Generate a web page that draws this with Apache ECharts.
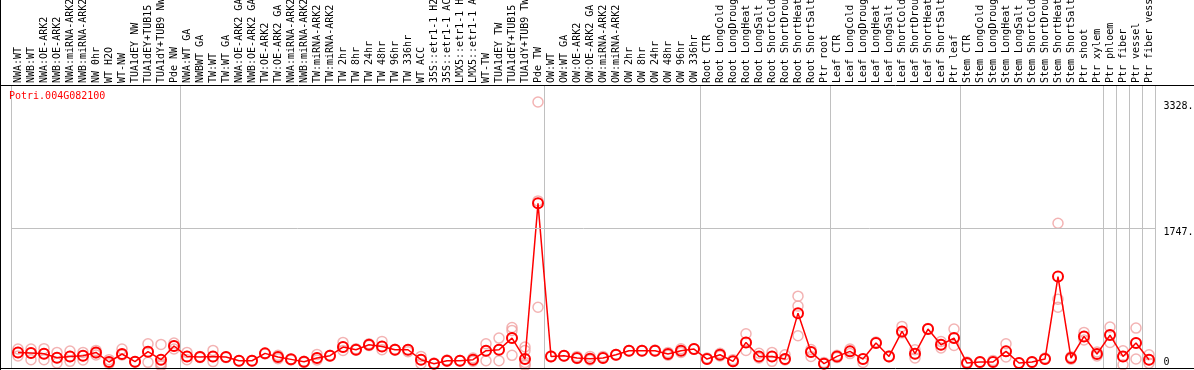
<!DOCTYPE html>
<html><head><meta charset="utf-8">
<script src="https://cdn.jsdelivr.net/npm/echarts@6/dist/echarts.min.js"></script>
<style>html,body{margin:0;padding:0;background:#fff}#c{width:1194px;height:370px}</style>
</head><body><div id="c"></div>
<script>
const geneName = 'Potri.004G082100';
const categories = [
 'NWA:WT','NWB:WT','NWA:OE-ARK2','NWB:OE-ARK2','NWA:miRNA-ARK2','NWB:miRNA-ARK2','NW 0hr','WT H2O','WT-NW','TUA1dEY NW','TUA1dEY+TUB15','TUA1dY+TUB9 NW','Pde NW',
 'NWA:WT GA','NWBWT GA','TW:WT','TW:WT GA','NWA:OE-ARK2 GA','NWB:OE-ARK2 GA','TW:OE-ARK2','TW:OE-ARK2 GA','NWA:miRNA-ARK2','NWB:miRNA-ARK2','TW:miRNA-ARK2','TW:miRNA-ARK2','TW 2hr','TW 8hr','TW 24hr','TW 48hr','TW 96hr','TW 336hr','WT ACC','35S::etr1-1 H2','35S::etr1-1 AC','LMX5::etr1-1 H','LMX5::etr1-1 A','WT-TW','TUA1dEY TW','TUA1dEY+TUB15','TUA1dY+TUB9 TW','Pde TW',
 'OW:WT','OW:WT GA','OW:OE-ARK2','OW:OE-ARK2 GA','OW:miRNA-ARK2','OW:miRNA-ARK2','OW 2hr','OW 8hr','OW 24hr','OW 48hr','OW 96hr','OW 336hr',
 'Root CTR','Root LongCold','Root LongDroug','Root LongHeat','Root LongSalt','Root ShortCold','Root ShortDrou','Root ShortHeat','Root ShortSalt','Ptr root',
 'Leaf CTR','Leaf LongCold','Leaf LongDroug','Leaf LongHeat','Leaf LongSalt','Leaf ShortCold','Leaf ShortDrou','Leaf ShortHeat','Leaf ShortSalt','Ptr leaf',
 'Stem CTR','Stem LongCold','Stem LongDroug','Stem LongHeat','Stem LongSalt','Stem ShortCold','Stem ShortDrou','Stem ShortHeat','Stem ShortSalt','Ptr shoot','Ptr xylem',
 'Ptr phloem','Ptr fiber','Ptr vessel','Ptr fiber vess'
];
const means = [
 195,187,179,129,145,154,195,75,175,79,204,104,275,
 145,137,145,137,91,91,183,137,108,79,125,154,262,229,291,270,229,228,104,54,91,91,104,216,228,374,112,2060,
 145,154,125,116,125,166,216,216,216,175,216,237,
 112,166,83,320,145,145,112,686,200,54,
 145,208,112,312,145,457,179,487,291,374,
 62,75,75,208,62,75,112,1144,125,395,175,
 412,145,312,104
];
const replicates = [
 [237,195,150],[237,187,104],[242,179,104],[195,129,62],[212,145,83],[195,154,100],[220,187,162],[104,75,54],[237,170,162],[79,75],[304,204,71],[295,60,40,25],[312,275,237],
 [195,145,104],[145,130],[220,140,80],[137,130],[91,88],[95,88],[183,175],[160,137,115],[108,100],[85,70],[170,125,100],[160,150],[320,262,220],[240,225],[304,291,280],[333,270,229],[235,225],[228,203],[145,104,54],[62,50],[100,91,85],[95,88],[125,104,85],[304,216,91],[374,228,91],[507,470,374,158],[262,220,70,45,30],[3328,2090,760],
 [150,140],[154,150],[145,120],[145,100],[145,125],[170,160],[220,212],[220,212],[225,212],[195,160],[240,195],[240,233],
 [125,110],[185,150],[104,80],[428,320,220],[185,125],[195,145,83],[166,112,100],[899,774,403],[230,200,145],[70,54],
 [160,130],[237,208,180],[112,70],[325,312],[150,140],[520,457,440],[229,179,125],[495,487],[332,291,250],[487,374,283],
 [75,50],[75,70],[95,75],[303,208,137],[62,60],[75,70],[125,112],[1810,861,761],[140,110],[445,395,350],[200,150],
 [512,412,320],[216,145,41],[499,312,112],[166,104,60]
];
const groupBoundaries = [0,13,41,53,63,73,84,85,86,87];
const yTicks = [0,1747,3328];
const yMax = 3540;

const mono = 'DejaVu Sans Mono';
const grayLine = '#c0c0c0';
const chart = echarts.init(document.getElementById('c'), null, {renderer: 'canvas'});
const isBoundary = (idx) => groupBoundaries.indexOf(idx) >= 0;
const repPoints = [];
replicates.forEach((arr, i) => arr.forEach(v => repPoints.push([i, v])));

chart.setOption({
  animation: false,
  backgroundColor: '#fff',
  title: {
    text: geneName, left: 9, top: 91, padding: 0,
    textStyle: {color: '#ff0000', fontSize: 10, fontFamily: mono, fontWeight: 'normal'}
  },
  grid: {left: 11.5, right: 38.5, top: 85, bottom: 2, containLabel: false, outerBoundsMode: 'none'},
  xAxis: {
    type: 'category', position: 'top', data: categories, boundaryGap: true,
    axisLine: {show: false},
    axisTick: {show: true, length: 85, interval: isBoundary, lineStyle: {color: grayLine, width: 1}},
    splitLine: {show: true, interval: isBoundary, lineStyle: {color: grayLine, width: 1}},
    axisLabel: {rotate: 90, interval: 0, margin: 2, fontFamily: mono, fontSize: 10, color: '#000'}
  },
  yAxis: {
    type: 'value', position: 'right', min: 0, max: yMax,
    axisLine: {show: false}, axisTick: {show: false}, splitLine: {show: false},
    axisLabel: {
      show: true, customValues: yTicks, margin: 8, color: '#000', fontFamily: mono, fontSize: 10,
      formatter: v => v === 0 ? '{lo|0}' : '{hi|' + v + '.}',
      rich: {
        hi: {padding: [9, 0, 0, 0], fontFamily: mono, fontSize: 10, color: '#000'},
        lo: {padding: [0, 0, 12, 0], fontFamily: mono, fontSize: 10, color: '#000'}
      }
    }
  },
  graphic: [
    {type: 'line', shape: {x1: 0.5, y1: 0, x2: 0.5, y2: 370}, style: {stroke: '#000', lineWidth: 1}, z: 100},
    {type: 'line', shape: {x1: 0, y1: 85.5, x2: 1194, y2: 85.5}, style: {stroke: '#000', lineWidth: 1}, z: 100},
    {type: 'line', shape: {x1: 0, y1: 368.5, x2: 1194, y2: 368.5}, style: {stroke: '#000', lineWidth: 1}, z: 100}
  ],
  series: [
    {
      type: 'scatter', data: repPoints, symbol: 'circle', symbolSize: 10, z: 2,
      itemStyle: {color: 'rgba(0,0,0,0)', borderColor: '#f0a0a0', borderWidth: 1.5},
      silent: true
    },
    {
      type: 'line', data: means, symbol: 'circle', symbolSize: 10, z: 3,
      showAllSymbol: true,
      lineStyle: {color: '#ff0000', width: 1.5},
      itemStyle: {color: 'rgba(0,0,0,0)', borderColor: '#ff0000', borderWidth: 2},
      silent: true,
      markLine: {
        silent: true, symbol: 'none', animation: false,
        label: {show: false},
        lineStyle: {color: grayLine, type: 'solid', width: 1},
        data: [{yAxis: yTicks[1]}]
      }
    }
  ]
});
</script>
</body></html>
